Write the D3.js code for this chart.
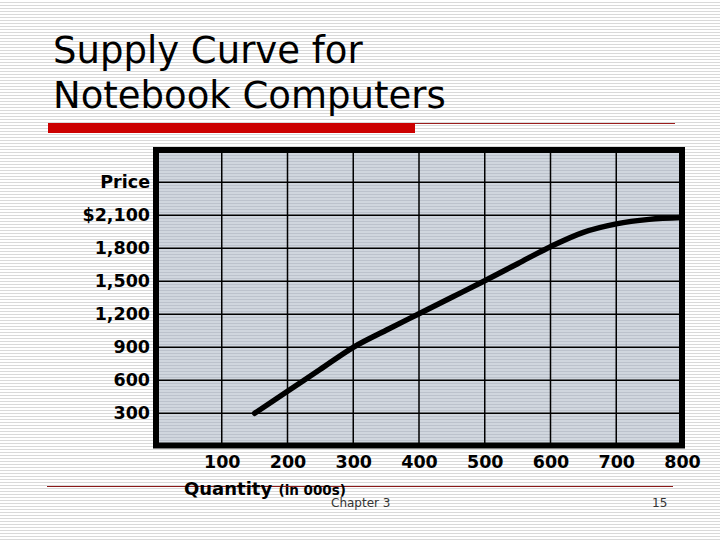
<!DOCTYPE html>
<html>
<head>
<meta charset="utf-8">
<script src="https://cdn.jsdelivr.net/npm/d3@7"></script>
<style>
body { margin:0; padding:0; background:#fff; }
</style>
</head>
<body>
<svg id="slide"></svg>
<script>
//the points (quantity in 000s, price in $)
var quantity = [150, 200, 250, 300, 350, 400, 450, 500, 550, 600, 650, 700, 750, 800];
var price    = [300, 500, 700, 900, 1055, 1205, 1355, 1505, 1660, 1815, 1945, 2022, 2063, 2080];

//ticks and their labels
var xTicks  = [100, 200, 300, 400, 500, 600, 700, 800];
var xLabels = ["100", "200", "300", "400", "500", "600", "700", "800"];
var yTicks  = [300, 600, 900, 1200, 1500, 1800, 2100, 2400];
var yLabels = ["300", "600", "900", "1,200", "1,500", "1,800", "$2,100", "Price"];

var titleLines = ["Supply Curve for", "Notebook Computers"];

//size of the slide
var screen = {width:720, height:540};

var svg = d3.select("#slide")
    .attr("width", screen.width)
    .attr("height", screen.height);

//striped patterns for the slide and for the plot area
var defs = svg.append("defs");

var bgPat = defs.append("pattern")
    .attr("id", "bgStripes")
    .attr("width", 8)
    .attr("height", 3)
    .attr("patternUnits", "userSpaceOnUse");
bgPat.append("rect").attr("width", 8).attr("height", 3).attr("fill", "#ffffff");
bgPat.append("rect").attr("y", 2).attr("width", 8).attr("height", 1).attr("fill", "#d9d9d9");

var plotPat = defs.append("pattern")
    .attr("id", "plotStripes")
    .attr("width", 8)
    .attr("height", 3)
    .attr("patternUnits", "userSpaceOnUse");
plotPat.append("rect").attr("width", 8).attr("height", 3).attr("fill", "#d0d6de");
plotPat.append("rect").attr("y", 2).attr("width", 8).attr("height", 1).attr("fill", "#bcc2cc");

svg.append("rect")
    .attr("width", screen.width)
    .attr("height", screen.height)
    .attr("fill", "url(#bgStripes)");

//title
svg.append("g")
    .selectAll("text")
    .data(titleLines)
    .enter()
    .append("text")
    .attr("x", 53)
    .attr("y", function(d, i) { return 63 + i * 45; })
    .attr("font-family", "DejaVu Sans, Verdana, sans-serif")
    .attr("font-size", 37)
    .attr("fill", "#000")
    .text(function(d) { return d; });

//red rules under the title and at the bottom
svg.append("line")
    .attr("x1", 415).attr("x2", 675)
    .attr("y1", 123.5).attr("y2", 123.5)
    .attr("stroke", "#9b1c1c")
    .attr("stroke-width", 1);
svg.append("rect")
    .attr("x", 48).attr("y", 123)
    .attr("width", 367).attr("height", 10)
    .attr("fill", "#cc0000");
svg.append("line")
    .attr("x1", 47).attr("x2", 673)
    .attr("y1", 486.5).attr("y2", 486.5)
    .attr("stroke", "#8b1a1a")
    .attr("stroke-width", 1);

//scales
var xScale = d3.scaleLinear()
    .domain([0, 800])
    .range([156, 682]);

var yScale = d3.scaleLinear()
    .domain([0, 2700])
    .range([446.3, 149.3]);

var plot = {x:156, y:150, width:526, height:295.5};

//plot area background
svg.append("rect")
    .attr("x", plot.x).attr("y", plot.y)
    .attr("width", plot.width).attr("height", plot.height)
    .attr("fill", "url(#plotStripes)");

//grid lines
var grid = svg.append("g").classed("grid", true);
grid.selectAll(".hline")
    .data(yTicks)
    .enter()
    .append("line")
    .attr("x1", plot.x).attr("x2", plot.x + plot.width)
    .attr("y1", function(d) { return yScale(d); })
    .attr("y2", function(d) { return yScale(d); })
    .attr("stroke", "#000")
    .attr("stroke-width", 1.5);
grid.selectAll(".vline")
    .data(xTicks.slice(0, -1))
    .enter()
    .append("line")
    .attr("x1", function(d) { return xScale(d); })
    .attr("x2", function(d) { return xScale(d); })
    .attr("y1", plot.y).attr("y2", plot.y + plot.height)
    .attr("stroke", "#000")
    .attr("stroke-width", 1.5);

//the supply curve
var points = quantity.map(function(q, i) { return [q, price[i]]; });
var line = d3.line()
    .x(function(d) { return xScale(d[0]); })
    .y(function(d) { return yScale(d[1]); })
    .curve(d3.curveCatmullRom.alpha(0.5));

svg.append("path")
    .datum(points)
    .attr("d", line)
    .attr("fill", "none")
    .attr("stroke", "#000")
    .attr("stroke-width", 5.5)
    .attr("stroke-linecap", "round")
    .attr("stroke-linejoin", "round");

//thick frame round the plot
svg.append("rect")
    .attr("x", plot.x).attr("y", plot.y)
    .attr("width", plot.width).attr("height", plot.height)
    .attr("fill", "none")
    .attr("stroke", "#000")
    .attr("stroke-width", 6);

//axes (labels only)
var xAxis = d3.axisBottom(xScale)
    .tickValues(xTicks)
    .tickSize(0)
    .tickPadding(9)
    .tickFormat(function(d, i) { return xLabels[i]; });

var yAxis = d3.axisLeft(yScale)
    .tickValues(yTicks)
    .tickSize(0)
    .tickPadding(6)
    .tickFormat(function(d, i) { return yLabels[i]; });

var gx = svg.append("g")
    .attr("transform", "translate(0," + yScale(0) + ")")
    .call(xAxis);
var gy = svg.append("g")
    .attr("transform", "translate(" + xScale(0) + ",0)")
    .call(yAxis);

[gx, gy].forEach(function(g)
{
    g.select(".domain").remove();
    g.attr("font-family", "DejaVu Sans, Verdana, sans-serif")
        .attr("font-size", 17.5)
        .attr("font-weight", "bold");
    g.selectAll("text").attr("fill", "#000");
});

//axis title
var qt = svg.append("text")
    .attr("x", 184)
    .attr("y", 495)
    .attr("font-family", "DejaVu Sans, Verdana, sans-serif")
    .attr("font-weight", "bold")
    .attr("font-size", 18)
    .attr("fill", "#000")
    .text("Quantity ");
qt.append("tspan")
    .attr("font-size", 13.5)
    .text("(in 000s)");

//footer
svg.append("text")
    .attr("x", 331).attr("y", 507)
    .attr("font-family", "DejaVu Sans, Verdana, sans-serif")
    .attr("font-size", 12)
    .attr("fill", "#333")
    .text("Chapter 3");
svg.append("text")
    .attr("x", 652).attr("y", 507)
    .attr("font-family", "DejaVu Sans, Verdana, sans-serif")
    .attr("font-size", 12)
    .attr("fill", "#333")
    .text("15");
</script>
</body>
</html>
